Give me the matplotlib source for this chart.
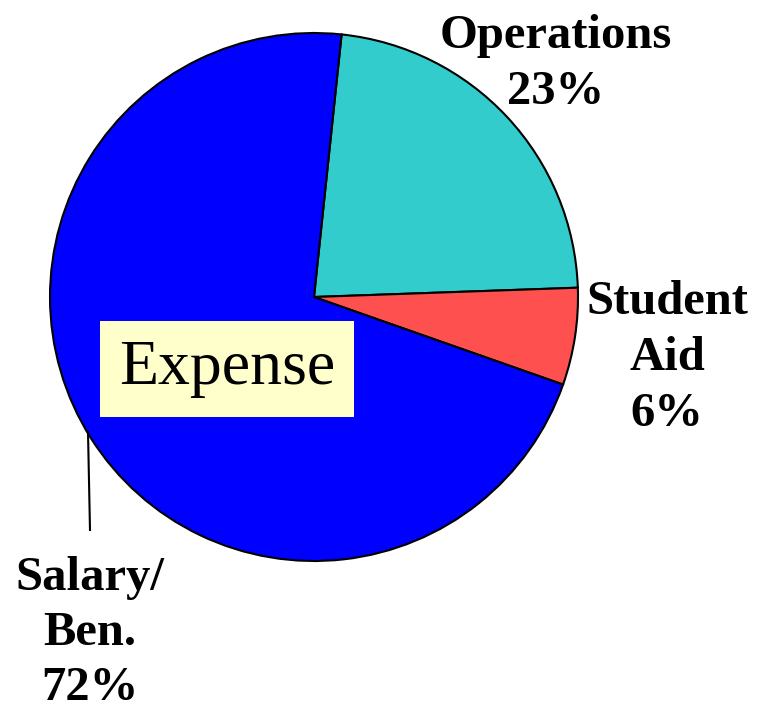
import matplotlib
matplotlib.use("Agg")
import matplotlib.pyplot as plt

# slices, clockwise from the top
names = ["Operations", "Student Aid", "Salary/Ben."]
shares = [23, 6, 72]
colors = ["#33CCCC", "#FF5050", "#0000FF"]

label_text = ["Operations\n23%", "Student\nAid\n6%", "Salary/\nBen.\n72%"]

plt.rcParams["font.family"] = ["Liberation Serif", "DejaVu Serif"]

fig = plt.figure(figsize=(7.57, 7.14), dpi=100)
ax = fig.add_axes([0, 0, 1, 1])

H = 714
ax.pie(shares, colors=colors, startangle=84, counterclock=False,
       center=(314, H - 297), radius=264,
       wedgeprops=dict(edgecolor="black", linewidth=1.5))

# pie() resets the limits, so set them afterwards
ax.set_xlim(0, 757)
ax.set_ylim(0, 714)
ax.set_aspect("equal")
ax.axis("off")

ax.text(556, H - 64, label_text[0], ha="center", va="center",
        fontsize=35, fontweight="bold", linespacing=1.35)
ax.text(667, H - 358, label_text[1], ha="center", va="center",
        fontsize=35, fontweight="bold", linespacing=1.35)
ax.text(90, H - 633, label_text[2], ha="center", va="center",
        fontsize=35, fontweight="bold", linespacing=1.33)

# leader line for the salary label
ax.plot([88, 90], [H - 432, H - 530], color="black", lw=1.5)

ax.text(227, H - 369, "Expense", ha="center", va="center", fontsize=46,
        bbox=dict(boxstyle="square,pad=0.3", facecolor="#FFFFCC",
                  edgecolor="none"))

fig.savefig("out.png", dpi=100)
